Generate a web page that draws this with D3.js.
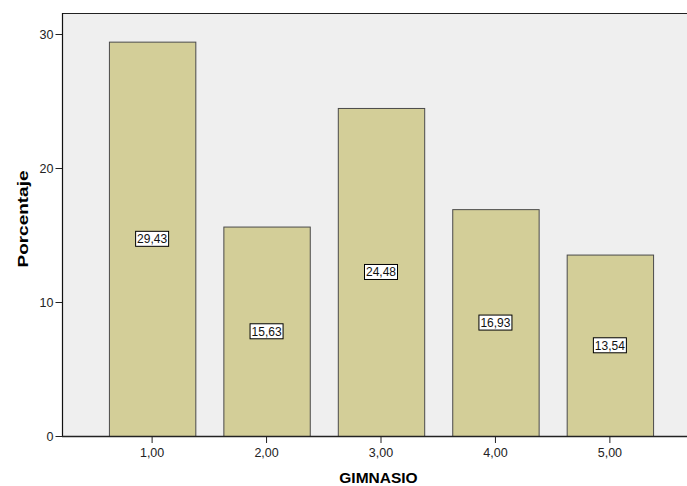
<!DOCTYPE html>
<html>
<head>
<meta charset="utf-8">
<script src="https://cdn.jsdelivr.net/npm/d3@7/dist/d3.min.js"></script>
<style>
  html, body { margin: 0; padding: 0; background: #fff; }
  svg { display: block; }
  text { font-family: "Liberation Sans", Arial, sans-serif; }
</style>
</head>
<body>
<svg id="chart" width="687" height="486"></svg>
<script>
// Gym distribution (percent of respondents per category)
const categories = ["1,00", "2,00", "3,00", "4,00", "5,00"];
const percentages = [29.43, 15.63, 24.48, 16.93, 13.54];
const valueLabels = ["29,43", "15,63", "24,48", "16,93", "13,54"];
const yTicks = [0, 10, 20, 30];
const xTitle = "GIMNASIO";
const yTitle = "Porcentaje";

const svg = d3.select("#chart");
const W = 687, H = 486;
const plotLeft = 62, plotTop = 13, plotBottom = 436, plotRight = 700;

const x = d3.scaleBand()
  .domain(categories)
  .range([plotLeft, plotRight])
  .paddingInner(0.245)
  .paddingOuter(0.41);

const y = d3.scaleLinear()
  .domain([0, 30])
  .range([plotBottom, 34]);

// plot background
svg.append("rect")
  .attr("x", plotLeft).attr("y", plotTop)
  .attr("width", W - plotLeft).attr("height", plotBottom - plotTop)
  .attr("fill", "#efefef");

// bars
svg.append("g").selectAll("rect")
  .data(categories)
  .join("rect")
  .attr("x", d => x(d) + 0.5)
  .attr("y", (d, i) => y(percentages[i]) + 0.5)
  .attr("width", x.bandwidth())
  .attr("height", (d, i) => y(0) - y(percentages[i]))
  .attr("fill", "#d3ce98")
  .attr("stroke", "#4a4a4a")
  .attr("stroke-width", 1);

// value labels in boxes at half height
const lab = svg.append("g").selectAll("g")
  .data(categories)
  .join("g")
  .attr("transform", (d, i) => `translate(${x(d) + x.bandwidth() / 2},${y(percentages[i] / 2)})`);
lab.append("rect")
  .attr("x", -16.5).attr("y", -7.5)
  .attr("width", 33).attr("height", 15)
  .attr("fill", "#fff").attr("stroke", "#000").attr("stroke-width", 1);
lab.append("text")
  .attr("text-anchor", "middle")
  .attr("dy", "0.36em")
  .attr("font-size", 12)
  .attr("fill", "#111")
  .text((d, i) => valueLabels[i]);

// top border
svg.append("line")
  .attr("x1", plotLeft).attr("x2", W)
  .attr("y1", plotTop + 0.5).attr("y2", plotTop + 0.5)
  .attr("stroke", "#222").attr("stroke-width", 1.2);

// y axis
const yAxis = d3.axisLeft(y).tickValues(yTicks).tickSize(7).tickPadding(2).tickFormat(d3.format("d"));
const gy = svg.append("g").attr("transform", `translate(${plotLeft + 0.5},0)`).call(yAxis);
gy.select(".domain").remove();
gy.selectAll(".tick line").attr("stroke", "#222");
gy.selectAll(".tick text").attr("font-size", 12.5).attr("fill", "#222")
  .attr("font-family", "Liberation Sans, Arial, sans-serif");
svg.append("line")
  .attr("x1", plotLeft + 0.5).attr("x2", plotLeft + 0.5)
  .attr("y1", plotTop).attr("y2", plotBottom)
  .attr("stroke", "#111").attr("stroke-width", 1.2);

// x axis
const xAxis = d3.axisBottom(x).tickSize(7).tickPadding(5);
const gx = svg.append("g").attr("transform", `translate(0,${plotBottom})`).call(xAxis);
gx.select(".domain").remove();
gx.selectAll(".tick line").attr("stroke", "#222");
gx.selectAll(".tick text").attr("font-size", 12.5).attr("fill", "#222")
  .attr("font-family", "Liberation Sans, Arial, sans-serif");
svg.append("line")
  .attr("x1", plotLeft).attr("x2", W)
  .attr("y1", plotBottom + 0.5).attr("y2", plotBottom + 0.5)
  .attr("stroke", "#222").attr("stroke-width", 1.6);

// axis titles
svg.append("text")
  .attr("x", 378.5).attr("y", 483)
  .attr("text-anchor", "middle")
  .attr("font-size", 15.5).attr("font-weight", "bold").attr("fill", "#000")
  .text(xTitle);
svg.append("text")
  .attr("transform", "translate(28,219) rotate(-90)")
  .attr("text-anchor", "middle")
  .attr("font-size", 15.5).attr("font-weight", "bold").attr("fill", "#000")
  .attr("textLength", 97).attr("lengthAdjust", "spacingAndGlyphs")
  .text(yTitle);
</script>
</body>
</html>
